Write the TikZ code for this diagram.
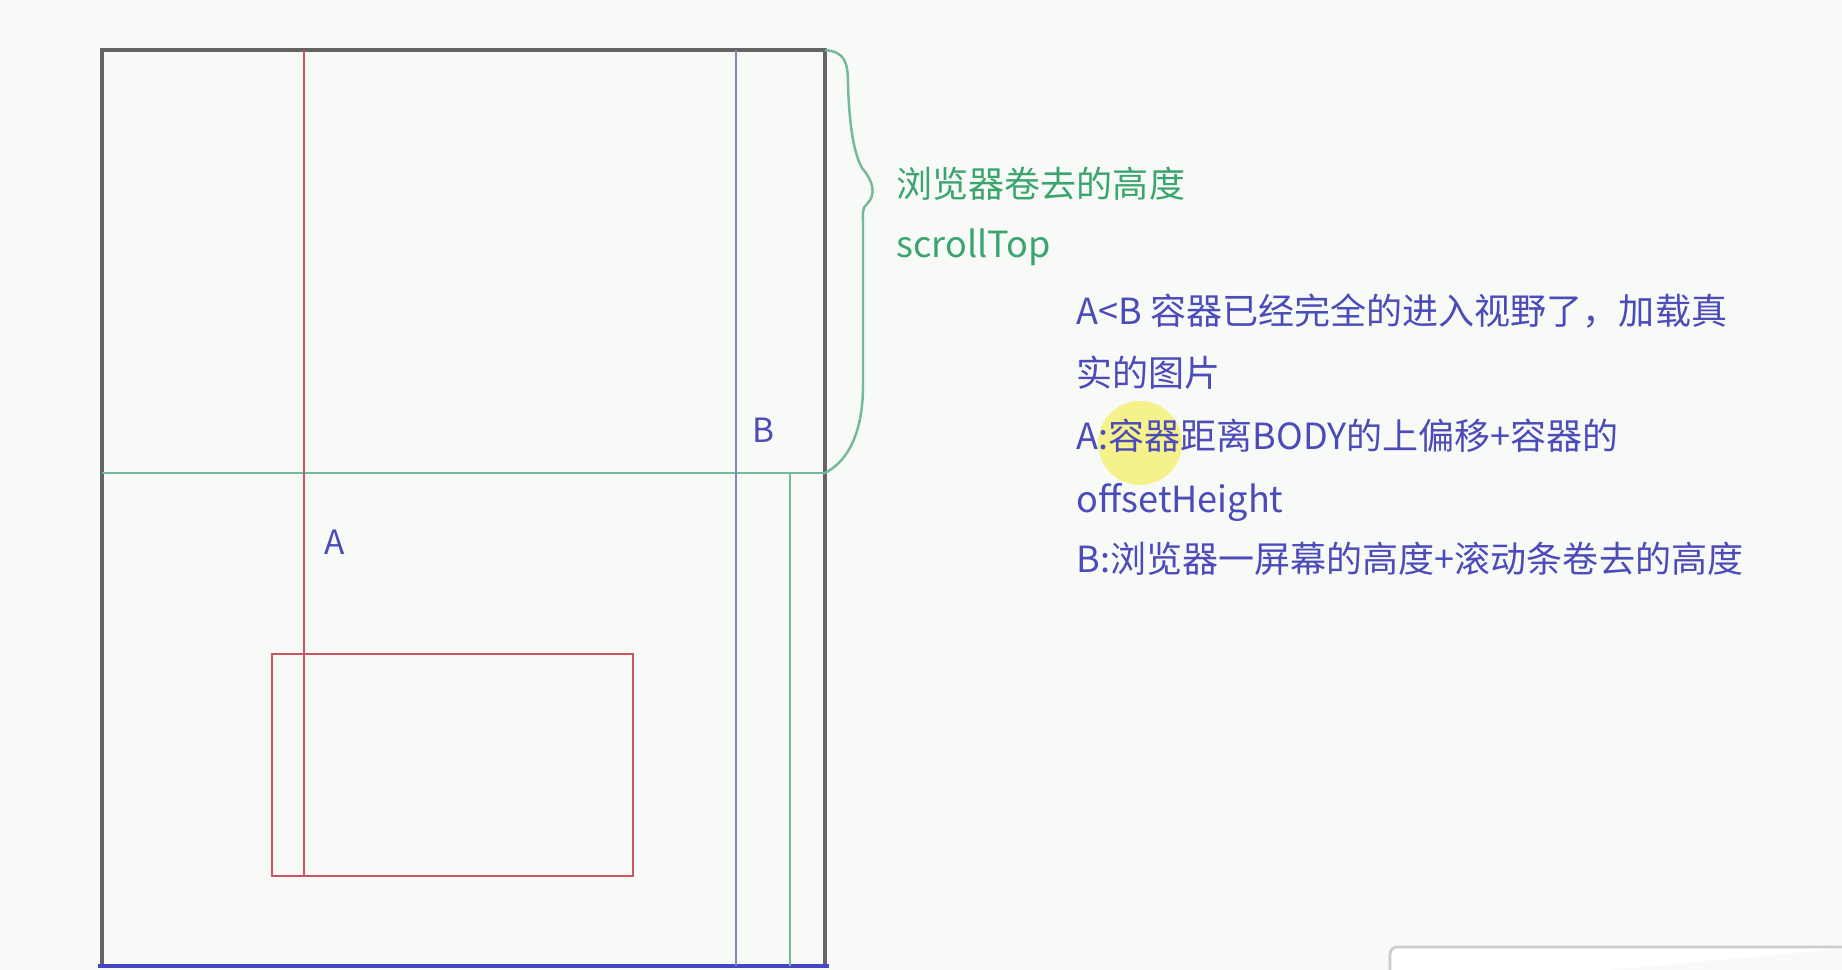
\documentclass[tikz,border=0pt]{standalone}
\usepackage{fontspec}
\setmainfont{Noto Sans CJK SC}
\usetikzlibrary{positioning, calc}

\definecolor{paper}{RGB}{248,250,248}
\definecolor{boxgray}{RGB}{100,100,100}
\definecolor{linered}{RGB}{205,85,95}
\definecolor{linepurple}{RGB}{135,135,180}
\definecolor{linegreen}{RGB}{115,185,155}
\definecolor{barblue}{RGB}{70,70,200}
\definecolor{textgreen}{RGB}{60,165,110}
\definecolor{textblue}{RGB}{75,75,185}
\definecolor{marker}{RGB}{245,240,120}

\begin{document}
\begin{tikzpicture}[x=0.01cm, y=-0.01cm]
  % --- STYLE DEFINITIONS ---
  \tikzstyle{frame}=[draw=boxgray, line width=0.9pt]
  \tikzstyle{redline}=[draw=linered, line width=0.6pt]
  \tikzstyle{purpleline}=[draw=linepurple, line width=0.7pt]
  \tikzstyle{greenline}=[draw=linegreen, line width=0.7pt]
  \tikzstyle{note}=[anchor=west, inner sep=0pt, font=\fontsize{10.25}{12}\selectfont]
  \tikzstyle{letter}=[inner sep=0pt, text=textblue, font=\fontsize{9.5}{11}\selectfont]

  % background and bounding box
  \fill[paper] (0,0) rectangle (1842,970);
  \useasboundingbox (0,0) rectangle (1842,970);

  % =================================================================
  % THE PAGE (outer box)
  % =================================================================
  \coordinate (TL) at (102,50);
  \coordinate (TR) at (825,50);
  \coordinate (BL) at (102,966);
  \coordinate (BR) at (825,966);
  \draw[frame] (BL) -- (TL) -- (TR) -- (BR);
  \draw[barblue, line width=1.3pt] ($(BL)+(-4,0)$) -- ($(BR)+(4,0)$);

  % screen edge (scrolled part above, window below)
  \coordinate (SL) at (102,473);
  \coordinate (SR) at (825,473);
  \draw[greenline] (SL) -- (SR);
  \draw[greenline] (790,473) -- (790,966);

  % B: purple line
  \draw[purpleline] (736,50) -- (736,966);
  \node[letter] (B) at (763,430) {B};

  % =================================================================
  % THE CONTAINER (red)
  % =================================================================
  \coordinate (C1) at (272,654);
  \coordinate (C2) at (633,876);
  \draw[redline] (C1) rectangle (C2);
  \draw[redline] (304,50) -- (304,876);
  \node[letter] (A) at (335,542) {A};

  % =================================================================
  % BRACE: scrollTop
  % =================================================================
  \draw[linegreen, line width=0.7pt]
    (TR) .. controls (845,52) and (848,62) .. (848,85)
    .. controls (849,115) and (852,150) .. (862,168)
    .. controls (874,182) and (876,195) .. (867,204)
    .. controls (862,208) and (863,212) .. (863,225)
    -- (863,390)
    .. controls (862,430) and (850,460) .. (SR);

  \node[note, text=textgreen] (brace) at (896,184) {浏览器卷去的高度};
  \node[note, text=textgreen] (scroll) at (896,247) {scrollTop};

  % =================================================================
  % NOTES (blue)
  % =================================================================
  \fill[marker, opacity=0.85] (1140,443) circle (42);
  \node[note, text=textblue] (n1) at (1076,311) {A<B 容器已经完全的进入视野了，加载真};
  \node[note, text=textblue] (n2) at (1076,373) {实的图片};
  \node[note, text=textblue] (n3) at (1076,436) {A:容器距离BODY的上偏移+容器的};
  \node[note, text=textblue] (n4) at (1076,502) {offsetHeight};
  \node[note, text=textblue] (n5) at (1076,559) {B:浏览器一屏幕的高度+滚动条卷去的高度};

  % corner of a window at the bottom right
  \draw[gray!40, line width=0.8pt, fill=white, rounded corners=2pt] (1390,990) -- (1390,947) -- (1860,947);
\end{tikzpicture}
\end{document}
